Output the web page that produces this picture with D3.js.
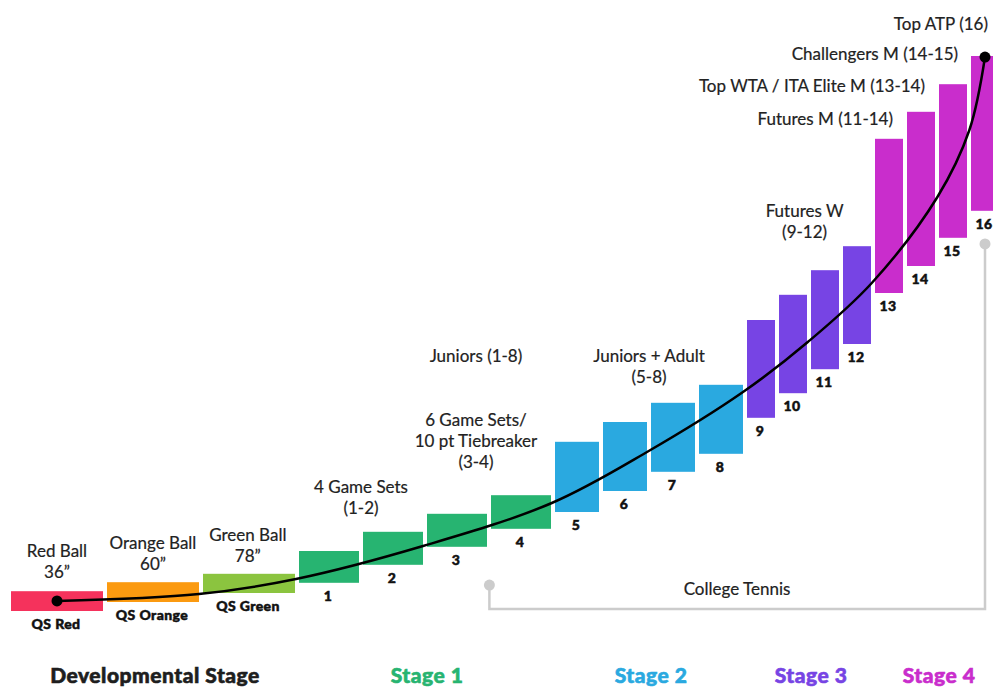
<!DOCTYPE html>
<html>
<head>
<meta charset="utf-8">
<script src="https://cdn.jsdelivr.net/npm/d3@7"></script>
<style>
  body { margin: 0; background: #fff; }
  text { font-family: Lato, "Open Sans", sans-serif; }
</style>
</head>
<body>
<div id="chart"></div>
<script>
// levels of the pathway, left to right
var levels = ["QS Red", "QS Orange", "QS Green", "1", "2", "3", "4", "5", "6", "7", "8",
              "9", "10", "11", "12", "13", "14", "15", "16"];
// which stage each level belongs to (0 = developmental)
var levelStage = [0, 0, 0, 1, 1, 1, 1, 2, 2, 2, 2, 3, 3, 3, 3, 4, 4, 4, 4];
// step width of each level, in units
var levelStep = [6, 6, 6, 4, 4, 4, 4, 3, 3, 3, 3, 2, 2, 2, 2, 2, 2, 2, 2];
// skill range covered by each level (0-100)
var levelLow  = [1.5, 3.0, 4.5, 6.2, 9.2, 12.2, 15.2, 18.0, 21.5, 24.7, 27.7,
                 33.7, 37.8, 41.8, 46.0, 54.5, 59.0, 63.7, 68.2];
var levelHigh = [4.8, 6.3, 7.7, 11.5, 14.7, 17.7, 20.8, 29.7, 33.0, 36.2, 39.2,
                 50.0, 54.2, 58.3, 62.3, 80.2, 84.7, 89.3, 94.0];

var stageNames = ["Developmental Stage", "Stage 1", "Stage 2", "Stage 3", "Stage 4"];

// progression curve (x in units, y in skill)
var curveX = [2.875, 11.75, 17.81, 25.75, 33.8, 39.75, 45.75, 49.8, 53.8, 57.9, 59.9, 60.875];
var curveY = [3.17, 4.33, 6.83, 12.33, 19.5, 28.0, 38.0, 46.33, 56.17, 70.5, 81.67, 93.83];

var width = 993, height = 688;

var qsColors = ["#f5325c", "#fb9a10", "#8bc43f"];
var stageColors = ["#1e1e1e", "#27b471", "#2aa9e0", "#7744e4", "#c92dcc"];

var x = d3.scaleLinear().domain([0, 62]).range([11, 1003]);
var y = d3.scaleLinear().domain([0, 100]).range([620, 20]);

var svg = d3.select("#chart").append("svg")
  .attr("width", width)
  .attr("height", height);

// start of every level
var starts = [];
var acc = 0;
for (var i = 0; i < levelStep.length; i++) {
  starts.push(acc);
  acc += levelStep[i];
}
var gap = 0.25;

function barColor(i) {
  return levelStage[i] == 0 ? qsColors[i] : stageColors[levelStage[i]];
}

var bars = levels.map(function(l, i) {
  return {label: l, i: i, x0: starts[i], x1: starts[i] + levelStep[i] - gap,
          low: levelLow[i], high: levelHigh[i]};
});

// college tennis bracket
var bracket = [[29.9, 5.83], [29.9, 1.83], [60.875, 1.83], [60.875, 62.67]];
svg.append("path")
  .attr("d", d3.line().x(function(d){ return x(d[0]); }).y(function(d){ return y(d[1]); })(bracket))
  .attr("fill", "none")
  .attr("stroke", "#cccccc")
  .attr("stroke-width", 2.5);
svg.selectAll("circle.bk")
  .data([bracket[0], bracket[3]])
  .enter().append("circle")
  .attr("class", "bk")
  .attr("cx", function(d){ return x(d[0]); })
  .attr("cy", function(d){ return y(d[1]); })
  .attr("r", 5.5)
  .attr("fill", "#cccccc");

svg.selectAll("rect.level")
  .data(bars)
  .enter().append("rect")
  .attr("class", "level")
  .attr("x", function(d){ return x(d.x0); })
  .attr("width", function(d){ return x(d.x1) - x(d.x0); })
  .attr("y", function(d){ return y(d.high); })
  .attr("height", function(d){ return y(d.low) - y(d.high); })
  .attr("fill", function(d){ return barColor(d.i); });

// level numbers under each bar
svg.selectAll("text.num")
  .data(bars)
  .enter().append("text")
  .attr("class", "num")
  .attr("x", function(d){ return (x(d.x0) + x(d.x1)) / 2 - 1; })
  .attr("y", function(d){ return y(d.low) + 18; })
  .attr("text-anchor", "middle")
  .style("font-size", "14px")
  .style("font-weight", 900)
  .style("letter-spacing", "0.4px")
  .style("fill", "#111")
  .style("stroke", "#111")
  .style("stroke-width", 0.5)
  .text(function(d){ return d.label; });

// the progression line
var pts = curveX.map(function(v, i){ return [v, curveY[i]]; });
svg.append("path")
  .attr("d", d3.line()
    .x(function(d){ return x(d[0]); })
    .y(function(d){ return y(d[1]); })
    .curve(d3.curveCatmullRom.alpha(0.5))(pts))
  .attr("fill", "none")
  .attr("stroke", "#000")
  .attr("stroke-width", 2.5);
svg.selectAll("circle.end")
  .data([pts[0], pts[pts.length - 1]])
  .enter().append("circle")
  .attr("class", "end")
  .attr("cx", function(d){ return x(d[0]); })
  .attr("cy", function(d){ return y(d[1]); })
  .attr("r", 5.5)
  .attr("fill", "#000");

// annotations, position in (units, skill) of first baseline
var notes = [
  {lines: ["Red Ball", "36\u201d"], u: 2.875, v: 10.5, anchor: "middle"},
  {lines: ["Orange Ball", "60\u201d"], u: 8.875, v: 11.83, anchor: "middle"},
  {lines: ["Green Ball", "78\u201d"], u: 14.8, v: 13.17, anchor: "middle"},
  {lines: ["4 Game Sets", "(1-2)"], u: 21.875, v: 21.17, anchor: "middle"},
  {lines: ["6 Game Sets/", "10 pt Tiebreaker", "(3-4)"], u: 29.06, v: 32.33, anchor: "middle"},
  {lines: ["Juniors (1-8)"], u: 29.06, v: 43, anchor: "middle"},
  {lines: ["Juniors + Adult", "(5-8)"], u: 39.875, v: 43, anchor: "middle"},
  {lines: ["Futures W", "(9-12)"], u: 49.6, v: 67.17, anchor: "middle"},
  {lines: ["Futures M (11-14)"], u: 55.125, v: 82.5, anchor: "end"},
  {lines: ["Top WTA / ITA Elite M (13-14)"], u: 57.125, v: 88, anchor: "end"},
  {lines: ["Challengers M (14-15)"], u: 59.19, v: 93.33, anchor: "end"},
  {lines: ["Top ATP (16)"], u: 61.06, v: 98.33, anchor: "end"},
  {lines: ["College Tennis"], u: 45.375, v: 4.17, anchor: "middle"}
];

var noteText = svg.selectAll("text.note")
  .data(notes)
  .enter().append("text")
  .attr("class", "note")
  .attr("text-anchor", function(d){ return d.anchor; })
  .style("font-size", "17px")
  .style("fill", "#222")
  .style("stroke", "#222")
  .style("stroke-width", 0.2);
noteText.selectAll("tspan")
  .data(function(d){ return d.lines.map(function(l){ return {t: l, p: d}; }); })
  .enter().append("tspan")
  .attr("x", function(d){ return x(d.p.u); })
  .attr("y", function(d, i){ return y(d.p.v) + i * 21; })
  .text(function(d){ return d.t; });

// stage names along the bottom
var stageSpan = stageNames.map(function(s, k){
  var idx = d3.range(levels.length).filter(function(i){ return levelStage[i] == k; });
  return {name: s, k: k, x0: starts[idx[0]], x1: starts[idx[idx.length - 1]] + levelStep[idx[idx.length - 1]]};
});
svg.selectAll("text.stage")
  .data(stageSpan)
  .enter().append("text")
  .attr("class", "stage")
  .attr("x", function(d){ return (x(d.x0) + x(d.x1)) / 2; })
  .attr("y", 683)
  .attr("text-anchor", "middle")
  .style("font-size", "21px")
  .style("font-weight", 900)
  .style("letter-spacing", "0.5px")
  .style("fill", function(d){ return stageColors[d.k]; })
  .style("stroke", function(d){ return stageColors[d.k]; })
  .style("stroke-width", 0.6)
  .text(function(d){ return d.name; });
</script>
</body>
</html>
